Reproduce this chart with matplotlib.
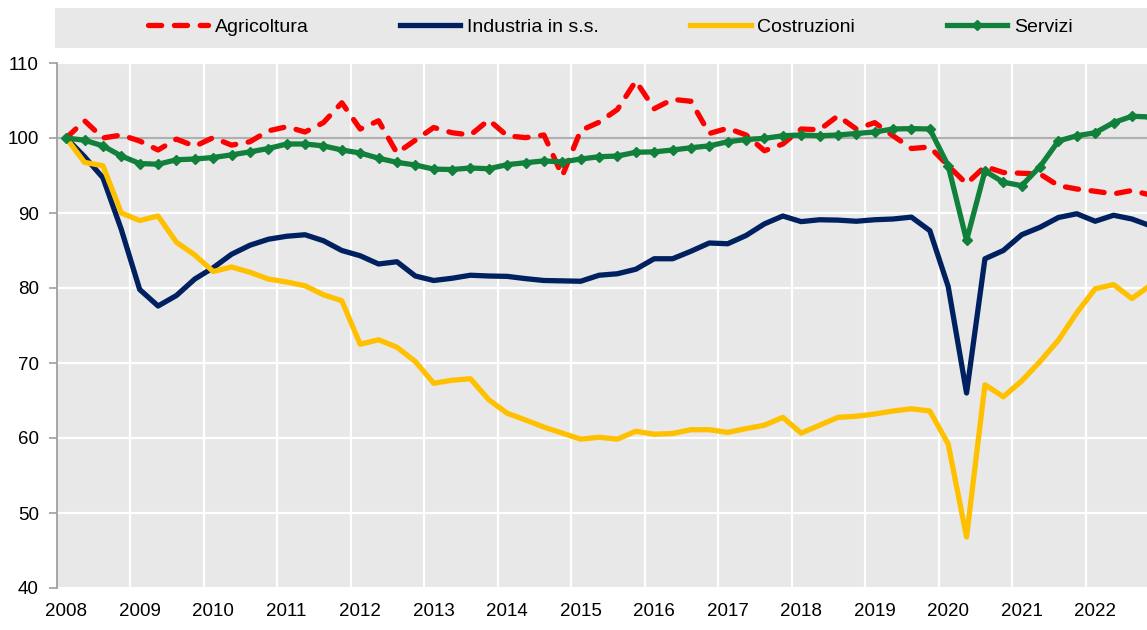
import matplotlib
matplotlib.use("Agg")
import matplotlib.pyplot as plt
from matplotlib.patches import Rectangle
import numpy as np

plt.rcParams['font.family'] = ['Liberation Sans Narrow', 'Liberation Sans', 'DejaVu Sans']

# quarterly index numbers, 2008Q1 = 100
agricoltura = [100, 102.3, 100.0, 100.4, 99.6, 98.4, 99.85, 98.9, 100.05, 99.05, 99.5, 100.95,
               101.5, 100.8, 102.05, 104.7, 101.2, 102.3, 98.0, 99.7, 101.4, 100.7, 100.4, 102.4,
               100.3, 100.05, 100.4, 94.95, 101.0, 102.1, 103.8, 107.6, 103.9, 105.15, 104.9, 100.6,
               101.3, 100.4, 98.3, 99.2, 101.2, 101.1, 102.95, 101.2, 102.05, 100.3, 98.6, 98.8,
               96.3, 93.9, 96.2, 95.4, 95.3, 95.2, 93.65, 93.2, 92.9, 92.55, 93.0, 92.4]
industria = [100, 97.5, 94.7, 87.8, 79.8, 77.6, 79.0, 81.2, 82.7, 84.5, 85.7, 86.5,
             86.9, 87.1, 86.3, 85.0, 84.3, 83.2, 83.5, 81.6, 81.0, 81.3, 81.7, 81.6,
             81.55, 81.25, 81.0, 80.95, 80.9, 81.7, 81.9, 82.5, 83.9, 83.9, 84.9, 86.0,
             85.9, 87.0, 88.55, 89.6, 88.85, 89.1, 89.05, 88.9, 89.1, 89.2, 89.45, 87.65,
             80.2, 66.0, 83.9, 85.0, 87.1, 88.1, 89.4, 89.9, 88.9, 89.7, 89.2, 88.3]
costruzioni = [100, 96.75, 96.3, 90.0, 89.0, 89.6, 86.1, 84.4, 82.2, 82.8, 82.1, 81.2,
               80.8, 80.3, 79.1, 78.3, 72.5, 73.1, 72.1, 70.2, 67.3, 67.7, 67.9, 65.1,
               63.3, 62.4, 61.45, 60.65, 59.85, 60.1, 59.85, 60.9, 60.5, 60.6, 61.1, 61.1,
               60.75, 61.25, 61.7, 62.75, 60.65, 61.7, 62.75, 62.9, 63.2, 63.6, 63.9, 63.6,
               59.2, 46.8, 67.1, 65.5, 67.6, 70.2, 73.05, 76.7, 79.9, 80.45, 78.6, 80.35]
servizi = [100, 99.7, 98.95, 97.6, 96.6, 96.5, 97.1, 97.2, 97.4, 97.75, 98.15, 98.6,
           99.2, 99.2, 98.95, 98.4, 98.0, 97.3, 96.75, 96.4, 95.85, 95.8, 96.0, 95.9,
           96.45, 96.7, 96.95, 96.8, 97.2, 97.5, 97.6, 98.1, 98.15, 98.4, 98.7, 98.95,
           99.5, 99.8, 99.95, 100.3, 100.4, 100.3, 100.4, 100.6, 100.8, 101.2, 101.25, 101.2,
           96.3, 86.35, 95.6, 94.1, 93.65, 96.2, 99.6, 100.3, 100.7, 102.05, 102.9, 102.8]
years = list(range(2008, 2023))

x = np.arange(len(servizi))

fig = plt.figure(figsize=(11.47, 6.30), dpi=100)
ax = fig.add_axes([57 / 1147, 42 / 630, 1 - 57 / 1147, 525 / 630])
ax.set_facecolor('#e8e8e8')

# legend band
fig.patches.append(Rectangle((55 / 1147, 1 - 48 / 630), 1 - 55 / 1147, 40 / 630,
                             transform=fig.transFigure, facecolor='#e8e8e8',
                             edgecolor='none', zorder=0))

ax.plot(x, agricoltura, color='#ff0000', lw=3.8, dashes=(2.5, 2.4),
        dash_capstyle='round', label='Agricoltura', zorder=3)
ax.plot(x, industria, color='#002060', lw=3.8, label='Industria in s.s.', zorder=3)
ax.plot(x, costruzioni, color='#ffc000', lw=3.8, label='Costruzioni', zorder=3)
ax.plot(x, servizi, color='#10803a', lw=3.8, marker='D', markersize=5.5,
        label='Servizi', zorder=4)

ax.axhline(100, color='#b0b0b0', lw=1.6, zorder=2)

ax.set_xlim(-0.5, 58.82)
ax.set_ylim(40, 110)
ax.set_yticks(range(40, 111, 10))
ax.set_xticks(np.arange(0, len(years) * 4, 4))
ax.set_xticklabels([str(y) for y in years])
ax.set_xticks(np.arange(3.5, 57, 4), minor=True)

ax.set_axisbelow(True)
ax.grid(axis='y', which='major', color='white', lw=1.6)
ax.grid(axis='x', which='minor', color='white', lw=1.6)

for s in ['top', 'right', 'bottom']:
    ax.spines[s].set_visible(False)
ax.spines['left'].set_color('#a0a0a0')
ax.spines['left'].set_linewidth(1.3)
ax.tick_params(axis='y', direction='out', length=6, width=1.2, color='#a0a0a0',
               labelsize=13.5, pad=7)
ax.tick_params(axis='x', which='both', length=0, labelsize=13.5, pad=11)

fig.legend(loc='center', bbox_to_anchor=(610 / 1147, 1 - 27 / 630), ncol=4,
           frameon=False, fontsize=14, handlelength=3.1, handletextpad=0.35,
           columnspacing=4.7)

fig.savefig('out.png', dpi=100)
